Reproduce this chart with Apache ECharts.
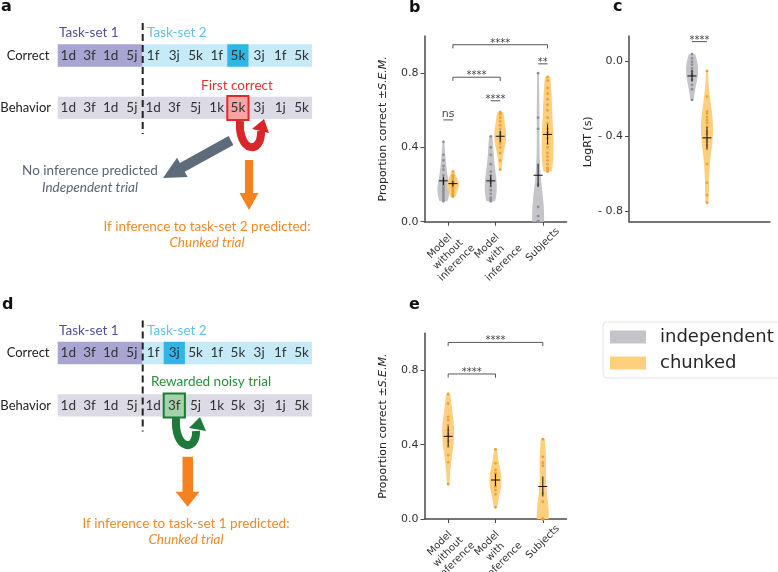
<!DOCTYPE html>
<html>
<head>
<meta charset="utf-8">
<script src="https://cdn.jsdelivr.net/npm/echarts@6/dist/echarts.min.js"></script>
<style>html,body{margin:0;padding:0;background:#fff}#c{width:778px;height:572px}</style>
</head>
<body>
<div id="c"></div>
<script>
// ---------------- data ----------------
const tickLabels = ['Model\nwithout\ninference', 'Model\nwith\ninference', 'Subjects'];
const hueNames = ['independent', 'chunked'];

// panel b : proportion correct, per group
const bIndependentPoints = [
  [0.43, 0.36, 0.33, 0.30, 0.28, 0.25, 0.23, 0.21, 0.20, 0.19, 0.18, 0.17, 0.16, 0.15, 0.14, 0.13, 0.12, 0.11],
  [0.46, 0.40, 0.36, 0.31, 0.27, 0.25, 0.23, 0.21, 0.19, 0.17, 0.15, 0.13, 0.12, 0.11],
  [0.80, 0.56, 0.50, 0.20, 0.08, 0.03, 0, 0, 0, 0, 0, 0, 0, 0]
];
const bChunkedPoints = [
  [0.27, 0.25, 0.24, 0.23, 0.22, 0.215, 0.21, 0.205, 0.20, 0.195, 0.19, 0.185, 0.18, 0.17, 0.16, 0.15, 0.14, 0.135],
  [0.59, 0.58, 0.56, 0.54, 0.52, 0.50, 0.48, 0.47, 0.46, 0.45, 0.44, 0.43, 0.42, 0.40, 0.37, 0.33, 0.28],
  [0.78, 0.76, 0.72, 0.69, 0.66, 0.63, 0.60, 0.56, 0.53, 0.50, 0.48, 0.47, 0.45, 0.42, 0.40, 0.37, 0.35, 0.33, 0.31, 0.29, 0.28, 0.27]
];
const bIndependentMean = [0.22, 0.22, 0.25];
const bIndependentSem = [0.022, 0.03, 0.063];
const bChunkedMean = [0.205, 0.46, 0.47];
const bChunkedSem = [0.015, 0.03, 0.054];
const bPairCats = [0, 1, 2];
const bPairLabels = ['ns', '****', '**'];
const bPairHeights = [0.548, 0.651, 0.850];
const bBracketEnds = [1, 2];
const bBracketLabels = ['****', '****'];
const bBracketHeights = [0.778, 0.953];

// panel c : log reaction time
const cIndependentPoints = [[0.036, 0.014, -0.004, -0.02, -0.04, -0.055, -0.07, -0.08, -0.10, -0.128, -0.151, -0.208]];
const cChunkedPoints = [[-0.053, -0.19, -0.27, -0.28, -0.30, -0.315, -0.33, -0.35, -0.375, -0.39, -0.415, -0.43, -0.45, -0.47, -0.55, -0.65, -0.715, -0.756]];
const cIndependentMean = [-0.08];
const cIndependentSem = [0.03];
const cChunkedMean = [-0.41];
const cChunkedSem = [0.058];
const cPairCats = [0];
const cPairLabels = ['****'];
const cPairHeights = [0.103];

// panel e : proportion correct, chunked only
const eChunkedPoints = [
  [0.673, 0.622, 0.55, 0.533, 0.506, 0.479, 0.46, 0.448, 0.42, 0.389, 0.344, 0.305, 0.187],
  [0.375, 0.30, 0.264, 0.245, 0.23, 0.21, 0.19, 0.175, 0.156, 0.133, 0.063],
  [0.43, 0.335, 0.303, 0.287, 0.138, 0.093, 0, 0, 0, 0, 0, 0]
];
const eChunkedMean = [0.445, 0.21, 0.175];
const eChunkedSem = [0.055, 0.033, 0.054];
const eBracketEnds = [1, 2];
const eBracketLabels = ['****', '****'];
const eBracketHeights = [0.781, 0.951];

// diagrams a / d
const aCorrectSeq = ['1d','3f','1d','5j','1f','3j','5k','1f','5k','3j','1f','5k'];
const aBehaviorSeq = ['1d','3f','1d','5j','1d','3f','5j','1k','5k','3j','1j','5k'];
const dCorrectSeq = ['1d','3f','1d','5j','1f','3j','5k','1f','5k','3j','1f','5k'];
const dBehaviorSeq = ['1d','3f','1d','5j','1d','3f','5j','1k','5k','3j','1j','5k'];

// ---------------- styles ----------------
const FP = '"DejaVu Sans", sans-serif';
const FD = 'Lato, "Open Sans", sans-serif';
const DS = '13.5px ';
const GRAY_FILL = '#c4c4c9';
const ORANGE_FILL = '#fdcf7e';
const GRAY_DOT = '#8f8f97';
const ORANGE_DOT = '#f0a030';
const AXIS_COLOR = '#4a4a4a';
const VIOLIN_HALF = 6;

function kdeProfile(vals, steps) {
  steps = steps || 80;
  const n = vals.length;
  const mean = vals.reduce((a, b) => a + b, 0) / n;
  const sd = Math.sqrt(vals.reduce((a, b) => a + (b - mean) * (b - mean), 0) / (n - 1)) || 0.01;
  const bw = sd * Math.pow(n, -0.2);
  const lo = Math.min.apply(null, vals), hi = Math.max.apply(null, vals);
  const out = [];
  let mx = 0;
  for (let k = 0; k <= steps; k++) {
    const v = lo + (hi - lo) * k / steps;
    let d = 0;
    vals.forEach(x => { const z = (v - x) / bw; d += Math.exp(-0.5 * z * z); });
    out.push([v, d]);
    if (d > mx) mx = d;
  }
  return out.map(p => [p[0], p[1] / mx]);
}

function makeViolin(name, xi, yi, ptsArr, means, sems, hueOff, fill, dot) {
  return {
    type: 'custom', name: name, xAxisIndex: xi, yAxisIndex: yi, silent: true,
    itemStyle: { color: fill },
    data: means.map((m, i) => [i, m]),
    renderItem: function (params, api) {
      const i = params.dataIndex;
      const band = api.size([1, 0])[0];
      const cx = api.coord([i, 0])[0] + hueOff * band;
      const prof = kdeProfile(ptsArr[i]);
      const right = prof.map(p => [cx + p[1] * VIOLIN_HALF, api.coord([i, p[0]])[1]]);
      const left = prof.map(p => [cx - p[1] * VIOLIN_HALF, api.coord([i, p[0]])[1]]).reverse();
      const children = [{ type: 'polygon', shape: { points: right.concat(left) }, style: { fill: fill } }];
      ptsArr[i].forEach(v => {
        children.push({ type: 'circle', shape: { cx: cx, cy: api.coord([i, v])[1], r: 1.4 }, style: { fill: dot } });
      });
      const ym = api.coord([i, means[i]])[1];
      const yt = api.coord([i, means[i] + sems[i]])[1];
      const yb = api.coord([i, means[i] - sems[i]])[1];
      children.push({ type: 'line', shape: { x1: cx - 4.5, y1: ym, x2: cx + 4.5, y2: ym }, style: { stroke: '#111', lineWidth: 1 } });
      children.push({ type: 'line', shape: { x1: cx, y1: yt, x2: cx, y2: yb }, style: { stroke: '#111', lineWidth: 1 } });
      return { type: 'group', children: children };
    }
  };
}

function sigText(x, y, label) {
  const star = label.indexOf('*') >= 0;
  return {
    type: 'text', x: x, y: y - (star ? 1.5 : 6),
    style: { text: label, fill: '#444', font: (star ? 10 : 11) + 'px ' + FP, align: 'center', verticalAlign: 'middle', textAlign: 'center', textVerticalAlign: 'middle' }
  };
}

function makePairs(xi, yi, cats, labels, heights, hueOff) {
  return {
    type: 'custom', name: 'pairs', xAxisIndex: xi, yAxisIndex: yi, silent: true,
    data: labels.map((l, i) => [cats[i], heights[i]]),
    renderItem: function (params, api) {
      const i = params.dataIndex;
      const band = api.size([1, 0])[0];
      const p = api.coord([cats[i], heights[i]]);
      const x1 = p[0] - hueOff * band, x2 = p[0] + hueOff * band;
      return { type: 'group', children: [
        { type: 'line', shape: { x1: x1, y1: p[1], x2: x2, y2: p[1] }, style: { stroke: '#555', lineWidth: 1 } },
        sigText((x1 + x2) / 2, p[1], labels[i])
      ] };
    }
  };
}

function makeBrackets(xi, yi, ends, labels, heights, hueOff) {
  return {
    type: 'custom', name: 'brackets', xAxisIndex: xi, yAxisIndex: yi, silent: true,
    data: labels.map((l, i) => [ends[i], heights[i]]),
    renderItem: function (params, api) {
      const i = params.dataIndex;
      const band = api.size([1, 0])[0];
      const pa = api.coord([0, heights[i]]);
      const pb = api.coord([ends[i], heights[i]]);
      const x1 = pa[0] + hueOff * band, x2 = pb[0] + hueOff * band, y = pa[1];
      return { type: 'group', children: [
        { type: 'polyline', shape: { points: [[x1, y + 3.7], [x1, y], [x2, y], [x2, y + 3.7]] }, style: { stroke: '#555', lineWidth: 1, fill: 'none' } },
        sigText((x1 + x2) / 2, y, labels[i])
      ] };
    }
  };
}

function catAxis(gi, showLabels) {
  return {
    type: 'category', gridIndex: gi, data: showLabels ? tickLabels : [''],
    axisLine: { show: true, onZero: false, lineStyle: { color: AXIS_COLOR, width: 1.5 } },
    axisTick: { show: showLabels, alignWithLabel: true, length: 4, lineStyle: { color: AXIS_COLOR, width: 1 } },
    axisLabel: showLabels ? {
      interval: 0, rotate: 45, align: 'center', verticalAlign: 'middle', margin: 33,
      fontSize: 10, lineHeight: 12, color: '#333', fontFamily: FP,
      formatter: v => v === 'Subjects' ? '{s|Subjects}' : v,
      rich: { s: { fontSize: 10, color: '#333', fontFamily: FP, padding: [0, 0, 14, 14] } }
    } : { show: false },
    splitLine: { show: false }
  };
}

function valAxis(gi, min, max, ticks, fmt, name, nameGap, namePad) {
  return {
    type: 'value', gridIndex: gi, min: min, max: max,
    axisLine: { show: true, onZero: false, lineStyle: { color: AXIS_COLOR, width: 1.5 } },
    axisTick: { show: true, length: 4, customValues: ticks, lineStyle: { color: AXIS_COLOR, width: 1 } },
    axisLabel: { customValues: ticks, formatter: fmt, fontSize: 11, color: '#333', fontFamily: FP, margin: 6 },
    splitLine: { show: false },
    name: name, nameLocation: 'middle', nameGap: nameGap,
    nameTextStyle: { fontSize: 11, color: '#222', fontFamily: FP, padding: namePad || 0,
      rich: { i: { fontSize: 11, fontStyle: 'italic', color: '#222', fontFamily: FP } } }
  };
}

// ---------------- diagrams ----------------
const X0 = 57.7, CW = 21.2;
const G = [];
function txt(x, y, s, color, font, align) {
  G.push({ type: 'text', x: x, y: y, z: 20, style: { text: s, fill: color, font: font, align: align || 'center', textAlign: align || 'center', verticalAlign: 'middle', textVerticalAlign: 'middle' } });
}
function diagram(dy, corr, beh, hiC, hiB, hiBFill, hiBStroke) {
  const cy = 44.3 + dy, by = 96.7 + dy;
  G.push({ type: 'rect', z: 5, shape: { x: X0, y: cy, width: CW * 4, height: 22.4 }, style: { fill: '#a9a5d3' } });
  G.push({ type: 'rect', z: 5, shape: { x: X0 + CW * 4, y: cy, width: CW * 8, height: 22.4 }, style: { fill: '#c6eaf8' } });
  G.push({ type: 'rect', z: 6, shape: { x: X0 + CW * hiC, y: cy, width: CW, height: 22.4 }, style: { fill: '#2fb6e6' } });
  G.push({ type: 'rect', z: 5, shape: { x: X0, y: by, width: CW * 12, height: 22.4 }, style: { fill: '#dcdbe5' } });
  G.push({ type: 'rect', z: 6, shape: { x: X0 + CW * hiB, y: by - 0.8, width: CW, height: 24 }, style: { fill: hiBFill, stroke: hiBStroke, lineWidth: 2 } });
  corr.forEach((s, i) => txt(X0 + CW * (i + 0.5), cy + 11.2, s, '#333', DS + FD));
  beh.forEach((s, i) => txt(X0 + CW * (i + 0.5), by + 11.2, s, '#333', DS + FD));
  txt(49.5, cy + 11.2, 'Correct', '#222', '13px ' + FD, 'right');
  txt(51, by + 11.2, 'Behavior', '#222', '13px ' + FD, 'right');
  txt(59, 33 + dy, 'Task-set 1', '#4f4fa0', DS + FD, 'left');
  txt(147, 33 + dy, 'Task-set 2', '#5ec4ea', DS + FD, 'left');
  G.push({ type: 'line', z: 15, shape: { x1: 142.7, y1: 23 + dy, x2: 142.7, y2: 134 + dy }, style: { stroke: '#222', lineWidth: 2, lineDash: [7, 4] } });
}
diagram(0, aCorrectSeq, aBehaviorSeq, 8, 8, '#f5a5a5', '#e02a2a');
diagram(297.5, dCorrectSeq, dBehaviorSeq, 5, 5, '#a3d3a8', '#1c7a36');

// a extras
txt(237, 86, 'First correct', '#e53232', DS + FD);
G.push({ type: 'bezierCurve', z: 18, shape: { x1: 240, y1: 121, cpx1: 238, cpy1: 153, cpx2: 262, cpy2: 155, x2: 261, y2: 131 }, style: { stroke: '#d8262b', lineWidth: 8, fill: null } });
G.push({ type: 'polygon', z: 18, shape: { points: [[264, 119], [252, 129], [269, 133]] }, style: { fill: '#d8262b' } });
G.push({ type: 'polygon', z: 17, shape: { points: [[233.4, 144.9], [184.7, 171.8], [187.6, 177.0], [163, 178], [177.0, 157.8], [179.9, 163.0], [228.6, 136.1]] }, style: { fill: '#5d6b7b' } });
G.push({ type: 'polygon', z: 17, shape: { points: [[245, 160], [253, 160], [253, 193], [258.5, 193], [249, 210], [239.5, 193], [245, 193]] }, style: { fill: '#f5821f' } });
txt(90, 171, 'No inference predicted', '#5a6472', DS + FD);
txt(90, 188, 'Independent trial', '#5a6472', 'italic ' + DS + FD);
txt(207, 226.7, 'If inference to task-set 2 predicted:', '#f08a2a', DS + FD);
txt(207, 243, 'Chunked trial', '#f08a2a', 'italic ' + DS + FD);

// d extras
txt(211, 381.7, 'Rewarded noisy trial', '#2a8f3c', DS + FD);
G.push({ type: 'bezierCurve', z: 18, shape: { x1: 176, y1: 418, cpx1: 174, cpy1: 451, cpx2: 197, cpy2: 452, x2: 196, y2: 431 }, style: { stroke: '#1e7a3a', lineWidth: 8, fill: null } });
G.push({ type: 'polygon', z: 18, shape: { points: [[200, 417], [189, 428], [206, 431]] }, style: { fill: '#1e7a3a' } });
G.push({ type: 'polygon', z: 17, shape: { points: [[182.5, 456.7], [193, 456.7], [193, 491.7], [199.5, 491.7], [187.7, 506.7], [175.5, 491.7], [182.5, 491.7]] }, style: { fill: '#f5821f' } });
txt(186, 523.3, 'If inference to task-set 1 predicted:', '#f08a2a', DS + FD);
txt(186, 540, 'Chunked trial', '#f08a2a', 'italic ' + DS + FD);

// panel letters
[['a', 1, 7], ['b', 409, 7.5], ['c', 613, 7], ['d', 2, 304.5], ['e', 409, 304.5]].forEach(l => {
  G.push({ type: 'text', x: l[1], y: l[2], z: 20, style: { text: l[0], fill: '#111', font: 'bold 16px ' + FP, align: 'left', textAlign: 'left', verticalAlign: 'middle', textVerticalAlign: 'middle' } });
});

// ---------------- chart ----------------
const fmt1 = v => v.toFixed(1);
const fmtNeg = v => (Math.abs(v) < 1e-9 ? '0.0' : '- ' + Math.abs(v).toFixed(1));
const chart = echarts.init(document.getElementById('c'), null, { renderer: 'canvas' });
chart.setOption({
  animation: false,
  backgroundColor: '#fff',
  grid: [
    { left: 424.5, top: 36, width: 142, height: 185.7, outerBoundsMode: 'none' },
    { left: 629, top: 36, width: 141, height: 185.7, outerBoundsMode: 'none' },
    { left: 424.5, top: 333.3, width: 142, height: 185.7, outerBoundsMode: 'none' }
  ],
  xAxis: [catAxis(0, true), catAxis(1, false), catAxis(2, true)],
  yAxis: [
    valAxis(0, 0, 1, [0, 0.4, 0.8], fmt1, 'Proportion correct \u00b1{i|S.E.M.}', 36),
    valAxis(1, -0.857, 0.133, [0, -0.4, -0.8], fmtNeg, 'LogRT (s)', 35, [0, 26, 0, 0]),
    valAxis(2, 0, 1, [0, 0.4, 0.8], fmt1, 'Proportion correct \u00b1{i|S.E.M.}', 36)
  ],
  legend: {
    orient: 'vertical', left: 603, top: 322, icon: 'rect', itemWidth: 36, itemHeight: 13, itemGap: 8,
    padding: [6, 8, 6, 7], borderColor: '#e4e4e4', borderWidth: 1, borderRadius: 4,
    textStyle: { fontSize: 18, lineHeight: 18, color: '#262626', fontFamily: FP, padding: [0, 0, 0, 9] },
    data: [{ name: hueNames[0], itemStyle: { color: GRAY_FILL } }, { name: hueNames[1], itemStyle: { color: ORANGE_FILL } }]
  },
  graphic: { elements: G },
  series: [
    makeViolin(hueNames[0], 0, 0, bIndependentPoints, bIndependentMean, bIndependentSem, -0.1, GRAY_FILL, GRAY_DOT),
    makeViolin(hueNames[1], 0, 0, bChunkedPoints, bChunkedMean, bChunkedSem, 0.1, ORANGE_FILL, ORANGE_DOT),
    makePairs(0, 0, bPairCats, bPairLabels, bPairHeights, 0.1),
    makeBrackets(0, 0, bBracketEnds, bBracketLabels, bBracketHeights, 0.1),
    makeViolin(hueNames[0], 1, 1, cIndependentPoints, cIndependentMean, cIndependentSem, -0.053, GRAY_FILL, GRAY_DOT),
    makeViolin(hueNames[1], 1, 1, cChunkedPoints, cChunkedMean, cChunkedSem, 0.053, ORANGE_FILL, ORANGE_DOT),
    makePairs(1, 1, cPairCats, cPairLabels, cPairHeights, 0.053),
    makeViolin(hueNames[1], 2, 2, eChunkedPoints, eChunkedMean, eChunkedSem, 0, ORANGE_FILL, ORANGE_DOT),
    makeBrackets(2, 2, eBracketEnds, eBracketLabels, eBracketHeights, 0)
  ]
});
</script>
</body>
</html>
